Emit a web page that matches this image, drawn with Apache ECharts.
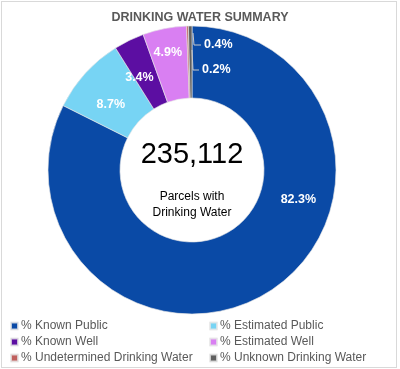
<!DOCTYPE html>
<html><head><meta charset="utf-8">
<script src="https://cdn.jsdelivr.net/npm/echarts@6/dist/echarts.min.js"></script>
<style>
html,body{margin:0;padding:0;background:#fff;}
#frame{position:absolute;left:1px;top:1px;width:394px;height:365px;border:1px solid #d9d9d9;}
#c{position:absolute;left:0;top:0;width:400px;height:369px;}
</style></head>
<body><div id="frame"></div><div id="c"></div>
<script>
const categories = ['% Known Public','% Estimated Public','% Known Well','% Estimated Well','% Undetermined Drinking Water','% Unknown Drinking Water'];
const values = [82.3, 8.7, 3.4, 4.9, 0.2, 0.4];
const totalParcels = '235,112';
const centerCaption = 'Parcels with\nDrinking Water';
const colors = ['#0A4AA6','#77D4F4','#5C0EA2','#D97FF2','#C0605E','#5F5F5F'];
const labelShift = [[48,-65],[1,9],[-4,7],[-3,-8],[0,0],[0,0]];

const chart = echarts.init(document.getElementById('c'), null, {renderer:'canvas'});
const font = '"Liberation Sans", Arial, sans-serif';
const data = categories.map((n,i)=>({
  name:n, value:values[i], itemStyle:{color:colors[i]},
  label: {position:'inside'},
  labelLine: {show:false}
}));
chart.setOption({
  animation:false,
  title:{text:'DRINKING WATER SUMMARY', left:'center', top:6,
    textStyle:{fontFamily:font, fontSize:12.5, fontWeight:'bold', color:'#595959'}},
  legend:[
    {orient:'vertical', left:5, top:315, itemWidth:7, itemHeight:7, itemGap:4, icon:'rect',
     data:[categories[0],categories[2],categories[4]], selectedMode:false,
     textStyle:{fontFamily:font, fontSize:12, color:'#595959', padding:[0,0,0,-2]}},
    {orient:'vertical', left:204, top:315, itemWidth:7, itemHeight:7, itemGap:4, icon:'rect',
     data:[categories[1],categories[3],categories[5]], selectedMode:false,
     textStyle:{fontFamily:font, fontSize:12, color:'#595959', padding:[0,0,0,-2]}}
  ],
  series:[{
    type:'pie', center:[192,170], radius:[72,144], startAngle:90, clockwise:true,
    avoidLabelOverlap:false,
    itemStyle:{borderColor:'rgba(230,230,230,0.8)', borderWidth:0.8},
    label:{show:true, formatter:p=>p.value.toFixed(1)+'%', color:'#fff', fontFamily:font, fontSize:12.5, fontWeight:'bold'},
    labelLayout:function(p){
      const i=p.dataIndex;
      if(i===5) return {x:204, y:45, align:'left', verticalAlign:'middle'};
      if(i===4) return {x:202, y:70, align:'left', verticalAlign:'middle'};
      return {dx:labelShift[i][0], dy:labelShift[i][1]};
    },
    data:data
  }],
  graphic:[
    {type:'text', z:100, x:192, y:155, style:{text:totalParcels, fontFamily:font, fontSize:29, fill:'#000', align:'center', verticalAlign:'middle'}},
    {type:'text', z:100, x:192, y:205, style:{text:centerCaption, fontFamily:font, fontSize:12, lineHeight:16, fill:'#000', align:'center', verticalAlign:'middle'}},
    {type:'polyline', z:100, shape:{points:[[201,45],[194,45],[193,33]]}, style:{stroke:'#c8c8c8', lineWidth:1, fill:null}},
    {type:'polyline', z:100, shape:{points:[[199,70],[193,70],[192,50]]}, style:{stroke:'#c8c8c8', lineWidth:1, fill:null}}
  ]
});
</script></body></html>
